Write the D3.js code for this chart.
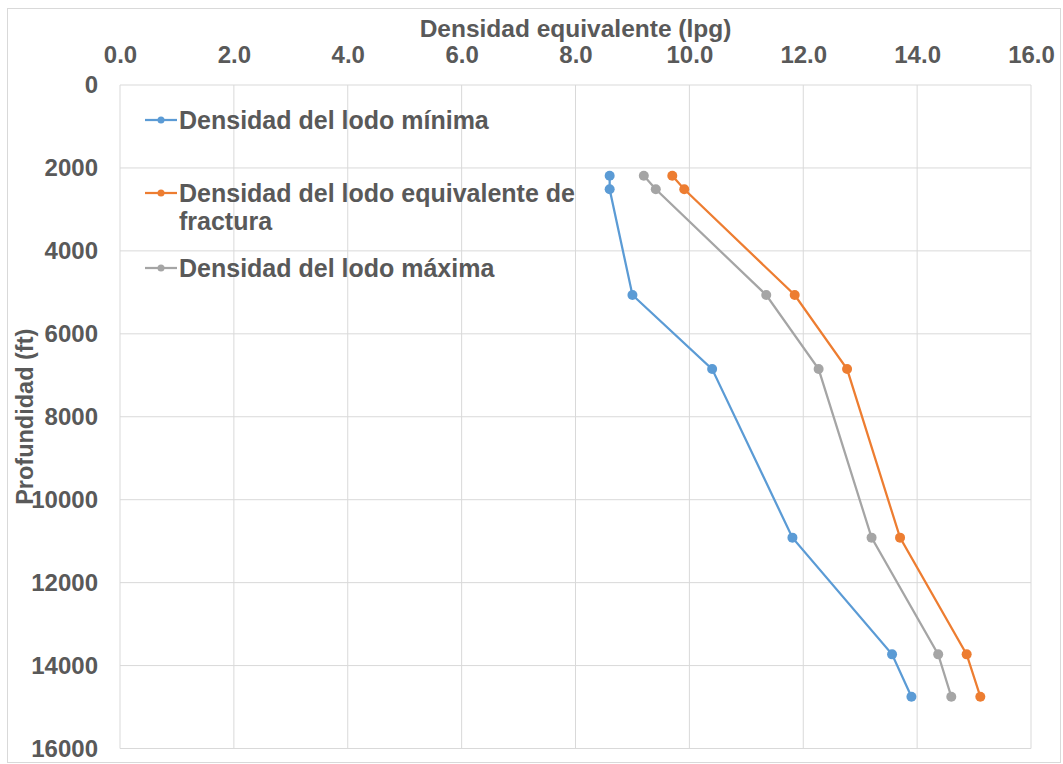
<!DOCTYPE html>
<html>
<head>
<meta charset="utf-8">
<script src="https://cdn.jsdelivr.net/npm/d3@7"></script>
<style>
  body { margin: 0; background: #fff; }
  svg { display: block; }
  text { font-family: "Liberation Sans", Arial, sans-serif; font-weight: bold; fill: #595959; }
</style>
</head>
<body>
<svg id="chart" width="1063" height="764"></svg>
<script>
// Data
const depths = [2190, 2515, 5065, 6850, 10915, 13730, 14750];
const minima = [8.60, 8.60, 9.00, 10.40, 11.81, 13.56, 13.90];
const fractura = [9.70, 9.91, 11.85, 12.77, 13.70, 14.87, 15.11];
const maxima = [9.20, 9.41, 11.35, 12.27, 13.20, 14.37, 14.60];
const seriesNames = ["Densidad del lodo mínima", "Densidad del lodo equivalente de fractura", "Densidad del lodo máxima"];
const seriesColors = ["#5B9BD5", "#ED7D31", "#A5A5A5"];
const xTicks = [0, 2, 4, 6, 8, 10, 12, 14, 16];
const yTicks = [0, 2000, 4000, 6000, 8000, 10000, 12000, 14000, 16000];
const xTitle = "Densidad equivalente (lpg)";
const yTitle = "Profundidad (ft)";

const svg = d3.select("#chart");
const W = 1063, H = 764;
const m = { left: 120, right: 1031, top: 85, bottom: 748.5 };

// outer border
svg.append("rect").attr("x", 7.5).attr("y", 8.5).attr("width", W - 10).attr("height", H - 10)
  .attr("fill", "#fff").attr("stroke", "#D9D9D9").attr("stroke-width", 1);

const x = d3.scaleLinear().domain([0, 16]).range([m.left, m.right]);
const y = d3.scaleLinear().domain([0, 16000]).range([m.top, m.bottom]);

// gridlines
const grid = svg.append("g");
grid.selectAll("line.v").data(xTicks).join("line")
  .attr("x1", d => x(d)).attr("x2", d => x(d))
  .attr("y1", m.top).attr("y2", m.bottom)
  .attr("stroke", "#D9D9D9").attr("stroke-width", 1);
grid.selectAll("line.h").data(yTicks).join("line")
  .attr("x1", m.left).attr("x2", m.right)
  .attr("y1", d => y(d)).attr("y2", d => y(d))
  .attr("stroke", "#D9D9D9").attr("stroke-width", 1);

// x axis (top)
const xAxis = d3.axisTop(x).tickValues(xTicks).tickFormat(d3.format(".1f")).tickSize(0).tickPadding(0);
const gx = svg.append("g").attr("transform", `translate(0,${63})`).call(xAxis);
gx.select(".domain").remove();
gx.selectAll("text").attr("font-size", 24).attr("fill", "#595959")
  .attr("font-family", "'Liberation Sans', Arial, sans-serif").attr("font-weight", "bold").attr("dy", 0);

// y axis
const yAxis = d3.axisLeft(y).tickValues(yTicks).tickFormat(d3.format("d")).tickSize(0).tickPadding(0);
const gy = svg.append("g").attr("transform", `translate(${98},0)`).call(yAxis);
gy.select(".domain").remove();
gy.selectAll("text").attr("font-size", 24).attr("fill", "#595959")
  .attr("font-family", "'Liberation Sans', Arial, sans-serif").attr("font-weight", "bold");

// axis titles
svg.append("text").attr("x", (m.left + m.right) / 2).attr("y", 37)
  .attr("text-anchor", "middle").attr("font-size", 24.5).text(xTitle);
svg.append("text").attr("transform", `translate(${33},${(m.top + m.bottom) / 2}) rotate(-90)`)
  .attr("text-anchor", "middle").attr("font-size", 23.5).text(yTitle);

// series
const allSeries = [minima, fractura, maxima];
const line = d3.line().x(d => x(d[0])).y(d => y(d[1]));
allSeries.forEach((vals, i) => {
  const pts = vals.map((v, j) => [v, depths[j]]);
  svg.append("path").datum(pts).attr("d", line)
    .attr("fill", "none").attr("stroke", seriesColors[i]).attr("stroke-width", 2.25);
  svg.append("g").selectAll("circle").data(pts).join("circle")
    .attr("cx", d => x(d[0])).attr("cy", d => y(d[1])).attr("r", 5)
    .attr("fill", seriesColors[i]);
});

// legend
const legendY = [120, 193, 268];
const legendLines = [["Densidad del lodo mínima"], ["Densidad del lodo equivalente de", "fractura"], ["Densidad del lodo máxima"]];
legendY.forEach((ly, i) => {
  const g = svg.append("g");
  g.append("line").attr("x1", 145).attr("x2", 177).attr("y1", ly).attr("y2", ly)
    .attr("stroke", seriesColors[i]).attr("stroke-width", 2.25);
  g.append("circle").attr("cx", 161).attr("cy", ly).attr("r", 3.5).attr("fill", seriesColors[i]);
  const t = g.append("text").attr("x", 179).attr("y", ly + 8.5).attr("font-size", 25);
  legendLines[i].forEach((s, k) => {
    t.append("tspan").attr("x", 179).attr("dy", k === 0 ? 0 : 28).text(s);
  });
});
</script>
</body>
</html>
